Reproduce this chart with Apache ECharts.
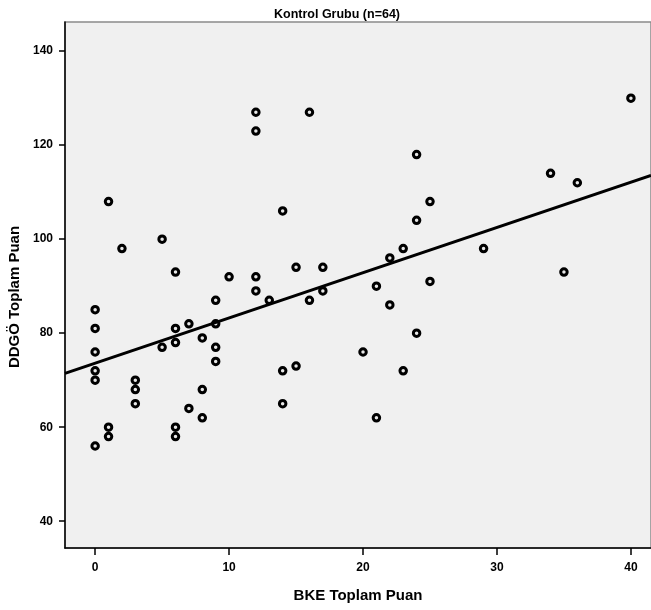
<!DOCTYPE html>
<html>
<head>
<meta charset="utf-8">
<script src="https://cdn.jsdelivr.net/npm/echarts@6/dist/echarts.min.js"></script>
<style>
html, body { margin: 0; padding: 0; background: #fff; }
#chart { width: 651px; height: 610px; }
</style>
</head>
<body>
<div id="chart"></div>
<script>
// BKE Toplam Puan (x) ve DDGÖ Toplam Puan (y)
var bkeValues = [0, 0, 0, 0, 0, 0, 1, 1, 1, 2, 3, 3, 3, 5, 5, 6, 6, 6, 6, 6,
    7, 7, 8, 8, 8, 9, 9, 9, 9, 10, 12, 12, 12, 12, 13, 14, 14, 14, 15, 15,
    16, 16, 17, 17, 20, 21, 21, 22, 22, 23, 23, 24, 24, 24, 25, 25, 29, 34, 35, 36, 40];
var ddgoValues = [85, 81, 76, 72, 70, 56, 108, 60, 58, 98, 70, 68, 65, 100, 77, 93, 81, 78, 60, 58,
    82, 64, 79, 68, 62, 87, 82, 77, 74, 92, 127, 123, 92, 89, 87, 106, 72, 65, 94, 73,
    127, 87, 94, 89, 76, 90, 62, 96, 86, 98, 72, 118, 104, 80, 108, 91, 98, 114, 93, 112, 130];
// regresyon dogrusu
var fitIntercept = 73.6;
var fitSlope = 0.963;
var xTicks = [0, 10, 20, 30, 40];
var yTicks = [40, 60, 80, 100, 120, 140];

var xMin = -2.25, xMax = 41.5;
var yMin = 34.3, yMax = 146.2;

var points = [];
for (var i = 0; i < bkeValues.length; i++) {
    points.push([bkeValues[i], ddgoValues[i]]);
}
var fitLine = [
    [xMin, fitIntercept + fitSlope * xMin],
    [xMax, fitIntercept + fitSlope * xMax]
];

var font = '"Liberation Sans", Arial, sans-serif';

var myChart = echarts.init(document.getElementById('chart'));
myChart.setOption({
    animation: false,
    title: {
        text: 'Kontrol Grubu (n=64)',
        left: 332,
        textAlign: 'center',
        top: 3,
        textStyle: { fontFamily: font, fontWeight: 'bold', fontSize: 12.5, color: '#000' }
    },
    grid: {
        left: 65, right: 0, top: 22, bottom: 62,
        outerBoundsMode: 'none',
        containLabel: false,
        show: true,
        backgroundColor: '#f0f0f0',
        borderColor: '#8a8a8a',
        borderWidth: 1.5
    },
    xAxis: {
        type: 'value',
        min: xMin,
        max: xMax,
        name: 'BKE Toplam Puan',
        nameLocation: 'middle',
        nameGap: 40,
        nameTextStyle: { fontFamily: font, fontWeight: 'bold', fontSize: 15, color: '#000' },
        axisLine: { show: true, onZero: false, lineStyle: { color: '#000', width: 1.5 } },
        axisTick: { show: true, customValues: xTicks, length: 7, lineStyle: { color: '#000', width: 1.5 } },
        axisLabel: { customValues: xTicks, margin: 14, fontFamily: font, fontWeight: 'bold', fontSize: 12, color: '#000' },
        splitLine: { show: false }
    },
    yAxis: {
        type: 'value',
        min: yMin,
        max: yMax,
        name: 'DDGÖ Toplam Puan',
        nameLocation: 'middle',
        nameGap: 32,
        nameTextStyle: { fontFamily: font, fontWeight: 'bold', fontSize: 15, color: '#000', padding: [0, 24, 0, 0] },
        axisLine: { show: true, onZero: false, lineStyle: { color: '#000', width: 1.5 } },
        axisTick: { show: true, customValues: yTicks, length: 6, lineStyle: { color: '#000', width: 1.5 } },
        axisLabel: { customValues: yTicks, margin: 12, fontFamily: font, fontWeight: 'bold', fontSize: 12, color: '#000' },
        splitLine: { show: false }
    },
    series: [{
        type: 'scatter',
        data: points,
        symbol: 'circle',
        symbolSize: 6.5,
        itemStyle: { color: '#e8e8e8', borderColor: '#000', borderWidth: 3, opacity: 1 },
        z: 3
    }, {
        type: 'line',
        data: fitLine,
        symbol: 'none',
        lineStyle: { color: '#000', width: 3 },
        z: 4
    }]
});
</script>
</body>
</html>
